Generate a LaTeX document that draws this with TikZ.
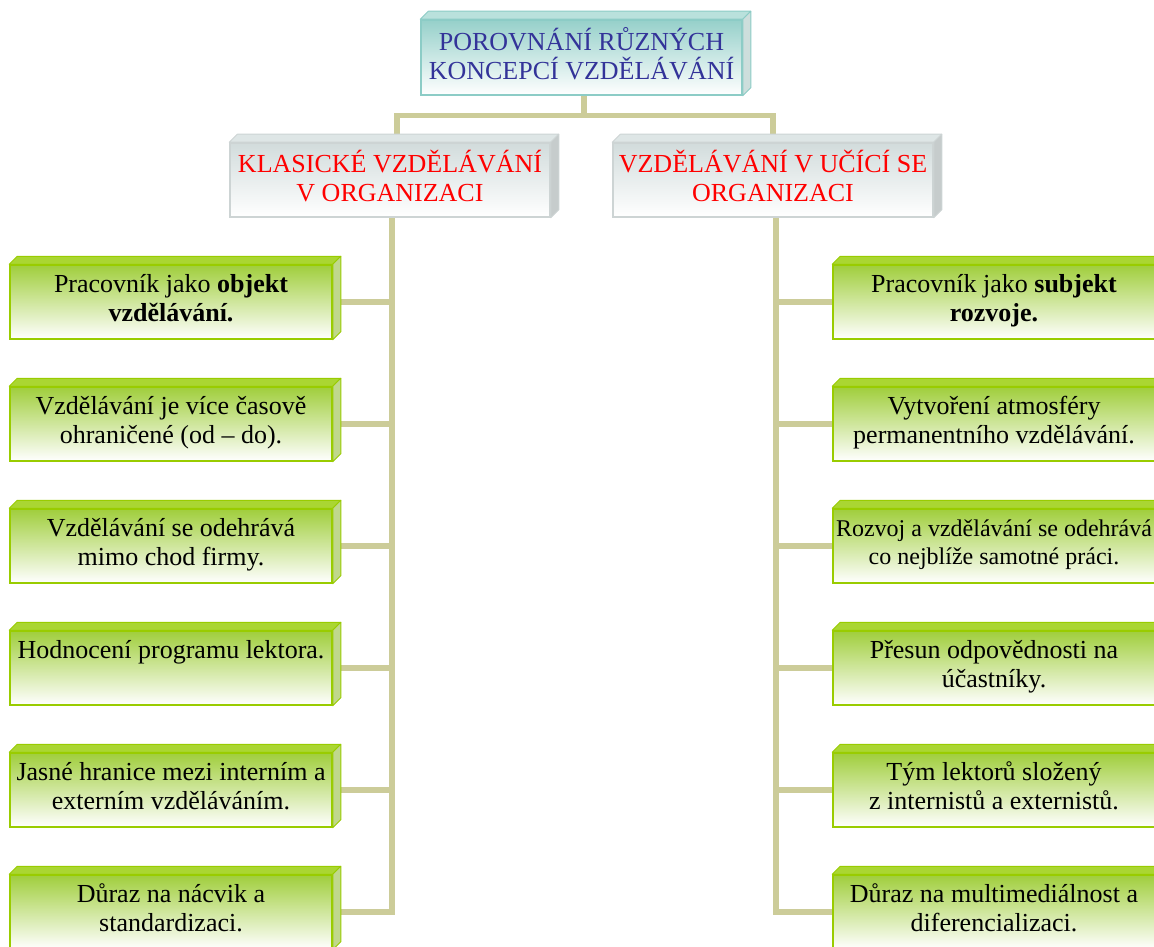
\documentclass[tikz,border=0pt]{standalone}
\usepackage{fontspec}
\setmainfont{Liberation Serif}
\newfontfamily\lserif{Liberation Serif}
\usetikzlibrary{calc}
\pgfdeclarelayer{background}
\pgfsetlayers{background,main}
\definecolor{conn}{RGB}{204,204,153}
\definecolor{gborder}{RGB}{153,204,0}
\definecolor{gfront}{RGB}{160,206,60}
\definecolor{gtop}{RGB}{170,214,50}
\definecolor{gside}{RGB}{192,216,140}
\definecolor{tborder}{RGB}{140,204,198}
\definecolor{tfront}{RGB}{150,208,202}
\definecolor{ttop}{RGB}{185,225,220}
\definecolor{tside}{RGB}{205,222,220}
\definecolor{mborder}{RGB}{205,212,212}
\definecolor{mfront}{RGB}{210,220,220}
\definecolor{mtop}{RGB}{222,230,230}
\definecolor{mside}{RGB}{198,204,204}
\definecolor{titleblue}{RGB}{51,51,153}
\newcommand\boxsides[4]{%
  \filldraw[fill=#2,draw=#4,line width=1pt,line join=round]
    (#1.north west) -- ++(8,-8) -- ($(#1.north east)+(8,-8)$) -- (#1.north east) -- cycle;
  \filldraw[fill=#3,draw=#4,line width=1pt,line join=round]
    (#1.north east) -- ++(8,-8) -- ($(#1.south east)+(8,-8)$) -- (#1.south east) -- cycle;
}
\tikzset{
  basebox/.style={draw, line width=1.5pt, inner sep=0pt, align=center,
    font=\lserif\fontsize{26}{29}\selectfont,
    execute at begin node=\strut, execute at end node=\strut},
  gbox/.style={basebox, draw=gborder, top color=gfront, bottom color=white,
    minimum width=322pt, minimum height=74pt, text=black},
  tbox/.style={basebox, draw=tborder, top color=tfront, bottom color=white,
    minimum width=321pt, minimum height=75pt, text=titleblue},
  mbox/.style={basebox, draw=mborder, top color=mfront, bottom color=white,
    minimum width=320pt, minimum height=74pt, text=red},
  conn/.style={draw=conn, line width=5.5pt, line join=miter}
}
\begin{document}
\begin{tikzpicture}[x=1pt,y=-1pt]
\useasboundingbox (0,0) rectangle (1154,947);
% title
\node[tbox] (top) at (581.5,57.5) {POROVNÁNÍ RŮZNÝCH\\KONCEPCÍ VZDĚLÁVÁNÍ};
\boxsides{top}{ttop}{tside}{tborder}
% second level
\node[mbox] (k) at (390,180) {KLASICKÉ VZDĚLÁVÁNÍ\\V ORGANIZACI};
\boxsides{k}{mtop}{mside}{mborder}
\node[mbox] (u) at (773,180) {VZDĚLÁVÁNÍ V UČÍCÍ SE\\ORGANIZACI};
\boxsides{u}{mtop}{mside}{mborder}
% left column
\node[gbox] (l1) at (171,302) {Pracovník jako \textbf{objekt}\\\textbf{vzdělávání.}};
\node[gbox] (l2) at (171,424) {Vzdělávání je více časově\\ohraničené (od – do).};
\node[gbox] (l3) at (171,546) {Vzdělávání se odehrává\\mimo chod firmy.};
\node[gbox] (l4) at (171,668) {Hodnocení programu lektora.\\};
\node[gbox] (l5) at (171,790) {Jasné hranice mezi interním a\\externím vzděláváním.};
\node[gbox] (l6) at (171,912) {Důraz na nácvik a\\standardizaci.};
% right column
\node[gbox] (r1) at (994,302) {Pracovník jako \textbf{subjekt}\\\textbf{rozvoje.}};
\node[gbox] (r2) at (994,424) {Vytvoření atmosféry\\permanentního vzdělávání.};
\node[gbox, font=\lserif\fontsize{24}{28}\selectfont] (r3) at (994,546) {Rozvoj a vzdělávání se odehrává\\co nejblíže samotné práci.};
\node[gbox] (r4) at (994,668) {Přesun odpovědnosti na\\účastníky.};
\node[gbox] (r5) at (994,790) {Tým lektorů složený\\z internistů a externistů.};
\node[gbox] (r6) at (994,912) {Důraz na multimediálnost a\\diferencializaci.};
\foreach \i in {1,...,6}{
  \boxsides{l\i}{gtop}{gside}{gborder}
  \boxsides{r\i}{gtop}{gside}{gborder}
}
% connectors
\begin{pgfonlayer}{background}
\coordinate (j) at (584,115.5);
\draw[conn] ([xshift=2.5pt]top.south) -- (j);
\draw[conn] (j) -| ([xshift=7pt]k.north);
\draw[conn] (j) -| (u.north);
\foreach \i in {1,...,6}{
  \draw[conn] ([xshift=2pt]k.south) |- (l\i.east);
  \draw[conn] ([xshift=3pt]u.south) |- (r\i.west);
}
\end{pgfonlayer}
\end{tikzpicture}
\end{document}
